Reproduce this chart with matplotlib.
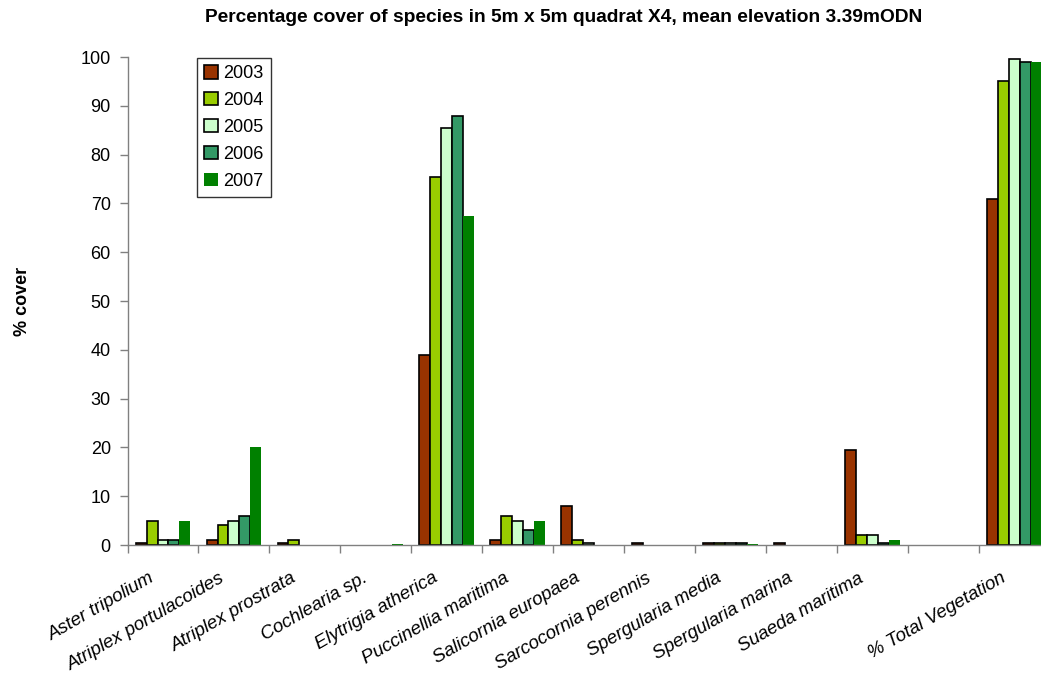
import matplotlib
matplotlib.use("Agg")
import matplotlib.pyplot as plt
import matplotlib.transforms as mtransforms
import numpy as np
from matplotlib.ticker import FixedLocator

plt.rcParams['font.family'] = ['Liberation Sans', 'DejaVu Sans']

categories = ["Aster tripolium", "Atriplex portulacoides", "Atriplex prostrata",
              "Cochlearia sp.", "Elytrigia atherica", "Puccinellia maritima",
              "Salicornia europaea", "Sarcocornia perennis", "Spergularia media",
              "Spergularia marina", "Suaeda maritima", "", "% Total Vegetation"]
years = ["2003", "2004", "2005", "2006", "2007"]
v2003 = [0.5, 1, 0.5, 0, 39, 1, 8, 0.5, 0.5, 0.5, 19.5, 0, 71]
v2004 = [5, 4, 1, 0, 75.5, 6, 1, 0, 0.5, 0, 2, 0, 95]
v2005 = [1, 5, 0, 0, 85.5, 5, 0.5, 0, 0.5, 0, 2, 0, 99.5]
v2006 = [1, 6, 0, 0, 88, 3, 0, 0, 0.5, 0, 0.5, 0, 99]
v2007 = [5, 20, 0, 0.2, 67.5, 5, 0, 0, 0.2, 0, 1, 0, 99]
series = [v2003, v2004, v2005, v2006, v2007]
colors = ["#993300", "#99CC00", "#CCFFCC", "#339966", "#008000"]
edges = ["black", "black", "black", "black", "none"]

fig = plt.figure(figsize=(10.41, 6.75), dpi=100)
ax = fig.add_axes([127.5/1041, 130/675, (1049.8-127.5)/1041, (545-57)/675])

n = len(series)
bw = 1/6.5
x = np.arange(len(categories))
for i, (vals, c, ec) in enumerate(zip(series, colors, edges)):
    offs = (i - (n-1)/2) * bw
    v = np.array(vals, dtype=float)
    mask = v > 0
    ax.bar(x[mask] + offs, v[mask], width=bw, color=c, edgecolor=ec, linewidth=1.2,
           label=years[i])

ax.set_xlim(-0.5, len(categories) - 0.5)
ax.set_ylim(0, 100)
ax.set_yticks(np.arange(0, 101, 10))
ax.tick_params(axis='y', labelsize=13, length=6, width=1, color='#808080', pad=6)
ax.set_xticks(x)
ax.set_xticklabels(categories, rotation=30, ha='right', va='center', rotation_mode='anchor',
                   fontsize=13.5, style='italic')
ax.tick_params(axis='x', which='major', length=0, pad=23)
offset = mtransforms.ScaledTranslation(-10/100, 0, fig.dpi_scale_trans)
for lab in ax.get_xticklabels():
    lab.set_transform(lab.get_transform() + offset)
ax.xaxis.set_minor_locator(FixedLocator(np.arange(-0.5, len(categories), 1)))
ax.tick_params(axis='x', which='minor', length=6, width=1, color='#808080')

for s in ['top', 'right']:
    ax.spines[s].set_visible(False)
for s in ['left', 'bottom']:
    ax.spines[s].set_color('#808080')
    ax.spines[s].set_linewidth(1)

ax.set_ylabel('% cover', fontsize=13, fontweight='bold', labelpad=36)
fig.text(564/1041, 1 - 18/675, 'Percentage cover of species in 5m x 5m quadrat X4, mean elevation 3.39mODN',
         ha='center', va='center', fontsize=13.8, fontweight='bold')

leg = ax.legend(loc='upper left', fontsize=13, frameon=True, fancybox=False, edgecolor='black',
                handlelength=0.75, handleheight=0.75, handletextpad=0.3, labelspacing=0.55,
                borderpad=0.4, borderaxespad=0)
leg.set_bbox_to_anchor((197/1041, 1 - 58/675), transform=fig.transFigure)
leg.get_frame().set_linewidth(1)

fig.savefig('out.png', dpi=100)
